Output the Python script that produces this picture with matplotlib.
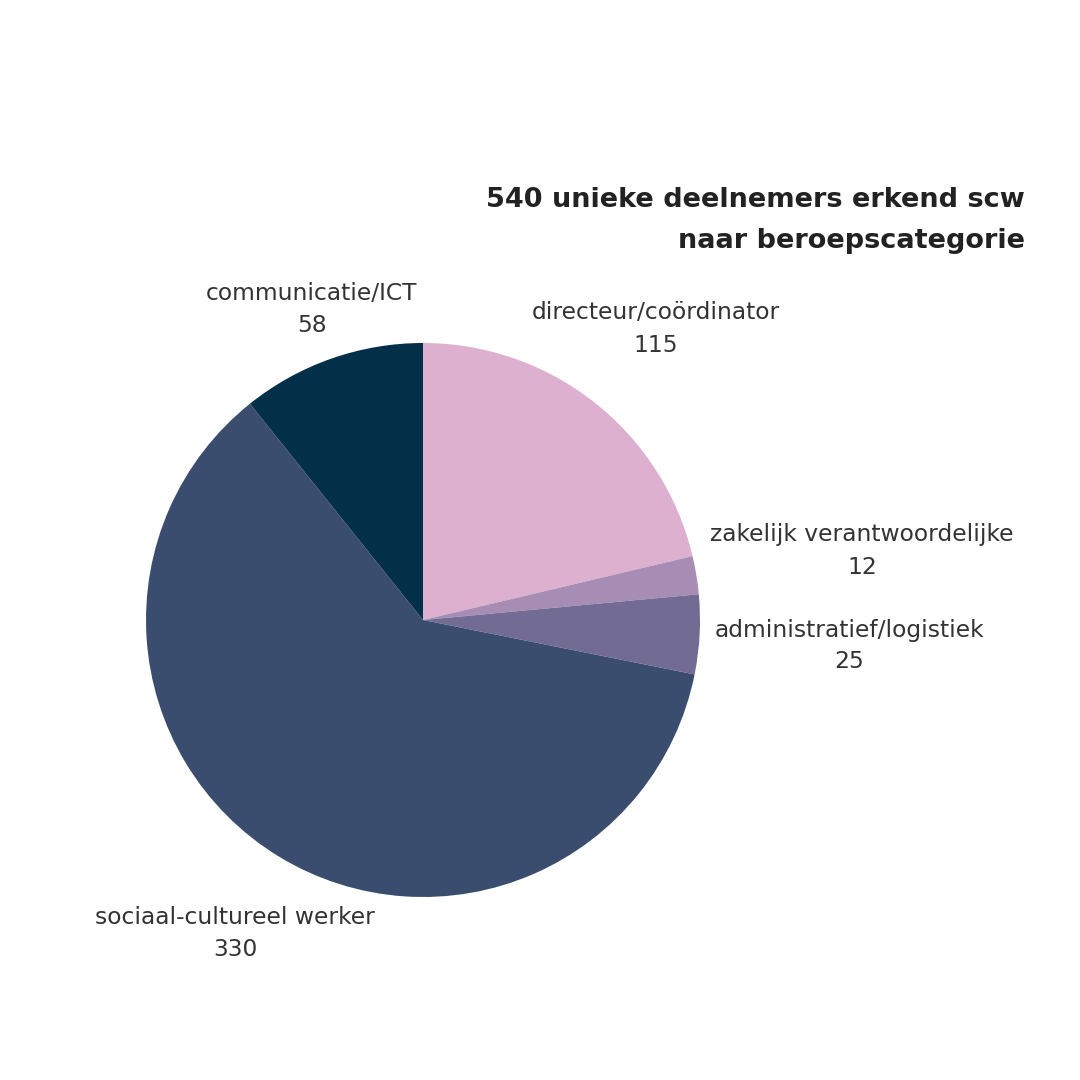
import matplotlib
matplotlib.use("Agg")
import matplotlib.pyplot as plt

categories = ["directeur/coördinator", "zakelijk verantwoordelijke", "administratief/logistiek",
              "sociaal-cultureel werker", "communicatie/ICT"]
values = [115, 12, 25, 330, 58]
colors = ["#DDB0D0", "#A78DB4", "#726C94", "#3B4D6E", "#032F48"]

# label anchor positions in figure pixels (x, y of first line centre)
label_pos = [(656, 313), (862, 535), (849, 630), (235, 918), (312, 293)]

W = H = 1080
fig = plt.figure(figsize=(10.8, 10.8), dpi=100)
fig.patch.set_facecolor("white")

cx, cy, r = 423, 620, 277
ax = fig.add_axes([(cx - r) / W, (H - cy - r) / H, 2 * r / W, 2 * r / H])
ax.pie(values, colors=colors, startangle=90, counterclock=False, radius=1,
       wedgeprops=dict(linewidth=0))
ax.set_xlim(-1, 1)
ax.set_ylim(-1, 1)
ax.set_aspect("equal")
ax.axis("off")

font = "DejaVu Sans"
for cat, val, (x, y) in zip(categories, values, label_pos):
    fig.text(x / W, 1 - y / H, cat, ha="center", va="center", fontsize=16.8,
             family=font, color="#333333")
    fig.text(x / W, 1 - (y + 32) / H, str(val), ha="center", va="center", fontsize=16.8,
             family=font, color="#333333")

fig.text(1025 / W, 1 - 200 / H, "540 unieke deelnemers erkend scw", ha="right", va="center",
         fontsize=19.5, family=font, weight="bold", color="#222222")
fig.text(1025 / W, 1 - 241 / H, "naar beroepscategorie", ha="right", va="center",
         fontsize=19.5, family=font, weight="bold", color="#222222")

fig.savefig("out.png", dpi=100, facecolor="white")
